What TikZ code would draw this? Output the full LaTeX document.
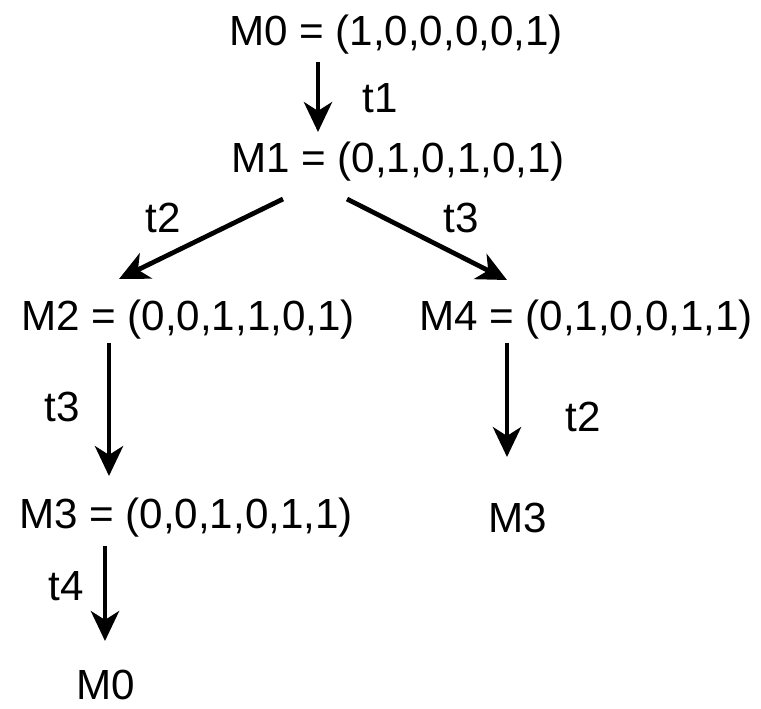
\documentclass[tikz,border=0pt]{standalone}
\usepackage{fontspec}
\setmainfont{Liberation Sans}
\usetikzlibrary{arrows.meta}

\begin{document}
\begin{tikzpicture}[
        x=0.02cm,
        y=-0.02cm,
        marking/.style={font=\fontsize{24}{28}\selectfont, inner sep=0pt},
        fire/.style={-{Stealth[length=17pt, width=16pt, inset=5pt]}, line width=2.7pt}
    ]
        \useasboundingbox (0,0) rectangle (761,708);

        % markings of the reachability tree
        \node[marking] (m0)  at (396,35)  {M0 = (1,0,0,0,0,1)};
        \node[marking] (m1)  at (398,162) {M1 = (0,1,0,1,0,1)};
        \node[marking] (m2)  at (188,320) {M2 = (0,0,1,1,0,1)};
        \node[marking] (m4)  at (586,320) {M4 = (0,1,0,0,1,1)};
        \node[marking] (m3)  at (186,518) {M3 = (0,0,1,0,1,1)};
        \node[marking] (m3b) at (518,518) {M3};
        \node[marking] (m0b) at (106,685) {M0};

        % arrow end points
        \coordinate (a0) at (318,62);   \coordinate (b0) at (318,132);
        \coordinate (a1) at (283,199);  \coordinate (b1) at (119,279);
        \coordinate (a2) at (347,199);  \coordinate (b2) at (507,280);
        \coordinate (a3) at (109,343);  \coordinate (b3) at (109,476);
        \coordinate (a4) at (507,343);  \coordinate (b4) at (507,457);
        \coordinate (a5) at (105,546);  \coordinate (b5) at (105,641);

        % transitions
        \draw[fire] (a0) -- (b0);
        \draw[fire] (a1) -- (b1);
        \draw[fire] (a2) -- (b2);
        \draw[fire] (a3) -- (b3);
        \draw[fire] (a4) -- (b4);
        \draw[fire] (a5) -- (b5);

        % labels
        \node[marking] (t1)  at (380,98)  {t1};
        \node[marking] (t2)  at (163,218) {t2};
        \node[marking] (t3)  at (461,218) {t3};
        \node[marking] (t3b) at (62,407)  {t3};
        \node[marking] (t2b) at (583,417) {t2};
        \node[marking] (t4)  at (66,586)  {t4};
    \end{tikzpicture}
\end{document}
